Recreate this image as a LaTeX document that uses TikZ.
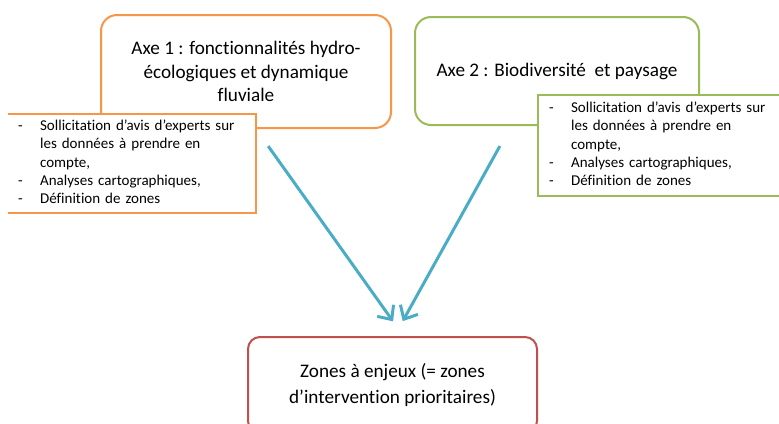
\documentclass[tikz,border=0pt]{standalone}
\usepackage{fontspec}
\setmainfont{Carlito}[Ligatures=NoCommon]
\usetikzlibrary{arrows.meta}
\definecolor{axeorange}{HTML}{F79646}
\definecolor{axegreen}{HTML}{9BBB59}
\definecolor{zonered}{HTML}{C0504D}
\definecolor{flowblue}{HTML}{4BACC6}
\newcommand{\listetapes}{%
\begin{tabular}{@{}p{22pt}@{}l@{}}
-&Sollicitation d’avis d’experts sur\\
 &les données à prendre en\\
 &compte,\\
-&Analyses cartographiques,\\
-&Définition de zones
\end{tabular}}

\begin{document}
\begin{tikzpicture}[x=1pt,y=-1pt,
  axe/.style={draw, rounded corners=16pt, line width=2pt, fill=white, align=center,
    font=\fontsize{19.2}{23.5}\selectfont},
  etapes/.style={draw, line width=2.2pt, fill=white, anchor=north west, inner xsep=11pt,
    align=left, font=\fontsize{15}{18.3}\selectfont},
  zone/.style={draw=zonered, rounded corners=12pt, line width=2pt, fill=white, align=center,
    minimum width=289pt, minimum height=96pt, font=\fontsize{19.2}{26}\selectfont},
  flow/.style={draw=flowblue, line width=3pt, -{Straight Barb[length=11pt,width=20pt]}}]
\useasboundingbox (0,0) rectangle (779,423);
\clip (8,0) rectangle (779,423);
\node[axe, draw=axeorange, minimum width=290pt, minimum height=113pt] (axeA) at (246,71.5)
  {Axe 1 : fonctionnalités hydro-\\écologiques et dynamique\\fluviale};
\node[axe, draw=axegreen, minimum width=284pt, minimum height=108pt] (axeB) at (557,71)
  {Axe 2 : Biodiversité \ et paysage};
\node[etapes, draw=axeorange, text width=227pt, minimum height=99pt] (listA) at (6,113) {\listetapes};
\node[etapes, draw=axegreen, text width=231pt, minimum height=101pt] (listB) at (537,94) {\listetapes};
\node[zone] (zones) at (392.5,385) {Zones à enjeux (= zones\\d’intervention prioritaires)};
\draw[flow, shorten <=21pt, shorten >=18pt] ([xshift=10pt]axeA.south) -- ([xshift=11pt]zones.north);
\draw[flow, shorten <=23pt, shorten >=17pt] ([xshift=-46pt]axeB.south) -- ([xshift=2pt]zones.north);
\end{tikzpicture}
\end{document}
